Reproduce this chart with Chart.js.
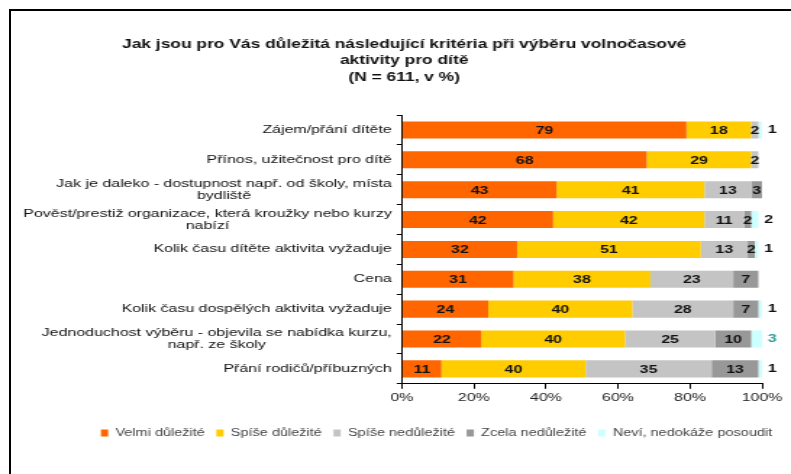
<!DOCTYPE html>
<html>
<head>
<meta charset="utf-8">
<script src="https://cdn.jsdelivr.net/npm/chart.js@4.4.1/dist/chart.umd.min.js"></script>
<style>
  html, body { margin: 0; padding: 0; background: #fff; overflow: hidden; }
  #wrap { position: relative; width: 791px; height: 474px; }
  /* the original picture is stretched horizontally, so the canvas is too */
  #stretch { position: absolute; left: 0; top: 0; width: 546px; height: 474px; transform: scaleX(1.4487); transform-origin: 0 0; }
  #frame { position: absolute; left: 9px; top: 9px; right: -5px; bottom: -5px; border-top: 2px solid #000; border-left: 2px solid #000; pointer-events: none; }
</style>
</head>
<body>
<div id="wrap">
  <div id="stretch"><canvas id="graf" width="546" height="474"></canvas></div>
  <div id="frame"></div>
</div>
<script>
// kategorie (víceřádkové popisky)
const kategorie = [
  ['Zájem/přání dítěte'],
  ['Přínos, užitečnost pro dítě'],
  ['Jak je daleko - dostupnost např. od školy, místa', 'bydliště'],
  ['Pověst/prestiž organizace, která kroužky nebo kurzy', 'nabízí'],
  ['Kolik času dítěte aktivita vyžaduje'],
  ['Cena'],
  ['Kolik času dospělých aktivita vyžaduje'],
  ['Jednoduchost výběru - objevila se nabídka kurzu,', 'např. ze školy'],
  ['Přání rodičů/příbuzných']
];

const velmiDulezite = [79, 68, 43, 42, 32, 31, 24, 22, 11];
const spiseDulezite = [18, 29, 41, 42, 51, 38, 40, 40, 40];
const spiseNedulezite = [2, 2, 13, 11, 13, 23, 28, 25, 35];
const zcelaNedulezite = [0, 0, 3, 2, 2, 7, 7, 10, 13];
const nevi = [1, 0, 0, 2, 1, 0, 1, 3, 1];

const nazvySerii = ['Velmi důležité', 'Spíše důležité', 'Spíše nedůležité', 'Zcela nedůležité', 'Neví, nedokáže posoudit'];
const barvy = ['#FF6600', '#FFCC00', '#C4C4C4', '#989898', '#CCFFFF'];
const barvaNevi = ['#111', '#111', '#111', '#111', '#111', '#111', '#111', '#2E9A9A', '#111'];

const xTicks = [0, 20, 40, 60, 80, 100];

const font = 'Liberation Sans, Arial, sans-serif';

// popisky hodnot v pruzích
const popiskyHodnot = {
  id: 'popiskyHodnot',
  afterDatasetsDraw(chart) {
    const ctx = chart.ctx;
    ctx.save();
    ctx.font = 'bold 11px ' + font;
    ctx.textBaseline = 'middle';
    chart.data.datasets.forEach((ds, i) => {
      const meta = chart.getDatasetMeta(i);
      meta.data.forEach((bar, j) => {
        const v = ds.data[j];
        if (!v) return;
        if (i < 4) {
          ctx.textAlign = 'center';
          ctx.fillStyle = '#111';
          ctx.fillText(v, (bar.x + bar.base) / 2, bar.y + 1);
        } else {
          ctx.textAlign = 'left';
          ctx.fillStyle = barvaNevi[j];
          ctx.fillText(v, bar.x + 4, bar.y);
        }
      });
    });
    ctx.restore();
  }
};

// popisky kategorií: první řádek vpravo, druhý na střed bloku
const popiskyKategorii = {
  id: 'popiskyKategorii',
  afterDraw(chart) {
    const ctx = chart.ctx;
    const y = chart.scales.y;
    const right = y.right - 7;
    ctx.save();
    ctx.font = '11px ' + font;
    ctx.fillStyle = '#111';
    ctx.textBaseline = 'middle';
    ctx.textAlign = 'center';
    kategorie.forEach((lines, i) => {
      const cy = y.getPixelForValue(i);
      const w = Math.max(...lines.map(l => ctx.measureText(l).width));
      const lh = 12;
      const y0 = cy - (lines.length - 1) * lh / 2;
      const cx = right - w / 2;
      lines.forEach((l, n) => ctx.fillText(l, cx, y0 + n * lh));
    });
    ctx.restore();
  }
};

new Chart(document.getElementById('graf'), {
  type: 'bar',
  data: {
    labels: kategorie.map(l => l.join(' ')),
    datasets: [velmiDulezite, spiseDulezite, spiseNedulezite, zcelaNedulezite, nevi].map((d, i) => ({
      label: nazvySerii[i],
      data: d,
      backgroundColor: barvy[i],
      borderWidth: 0,
      barPercentage: 0.57,
      categoryPercentage: 1
    }))
  },
  options: {
    indexAxis: 'y',
    responsive: false,
    animation: false,
    layout: { padding: { left: 17, right: 5, top: 0, bottom: 26 } },
    scales: {
      x: {
        stacked: true,
        min: 0,
        max: 100,
        afterBuildTicks: s => { s.ticks = xTicks.map(v => ({ value: v })); },
        afterFit: s => { s.height += 12; s.paddingRight = 20; },
        ticks: { callback: v => v + '%', color: '#222', font: { family: font, size: 11 }, padding: 3, maxRotation: 0 },
        grid: { drawOnChartArea: false, drawTicks: true, tickLength: 5, color: '#000' },
        border: { color: '#000', width: 1 }
      },
      y: {
        stacked: true,
        afterFit: s => { s.width = 260.4; },
        ticks: { display: false },
        grid: { drawOnChartArea: false, drawTicks: true, tickLength: 3.5, color: '#000', offset: true },
        border: { color: '#000', width: 1 }
      }
    },
    plugins: {
      title: {
        display: true,
        text: ['Jak jsou pro Vás důležitá následující kritéria při výběru volnočasové', 'aktivity pro dítě', '(N = 611, v %)'],
        color: '#111',
        font: { family: font, size: 12, weight: 'bold', lineHeight: 1.375 },
        padding: { top: 36, bottom: 29.5 }
      },
      legend: {
        position: 'bottom',
        align: 'end',
        labels: {
          boxWidth: 5,
          boxHeight: 7,
          padding: 8,
          color: '#444',
          font: { family: font, size: 10 }
        }
      },
      tooltip: { enabled: false }
    }
  },
  plugins: [popiskyHodnot, popiskyKategorii]
});
</script>
</body>
</html>
